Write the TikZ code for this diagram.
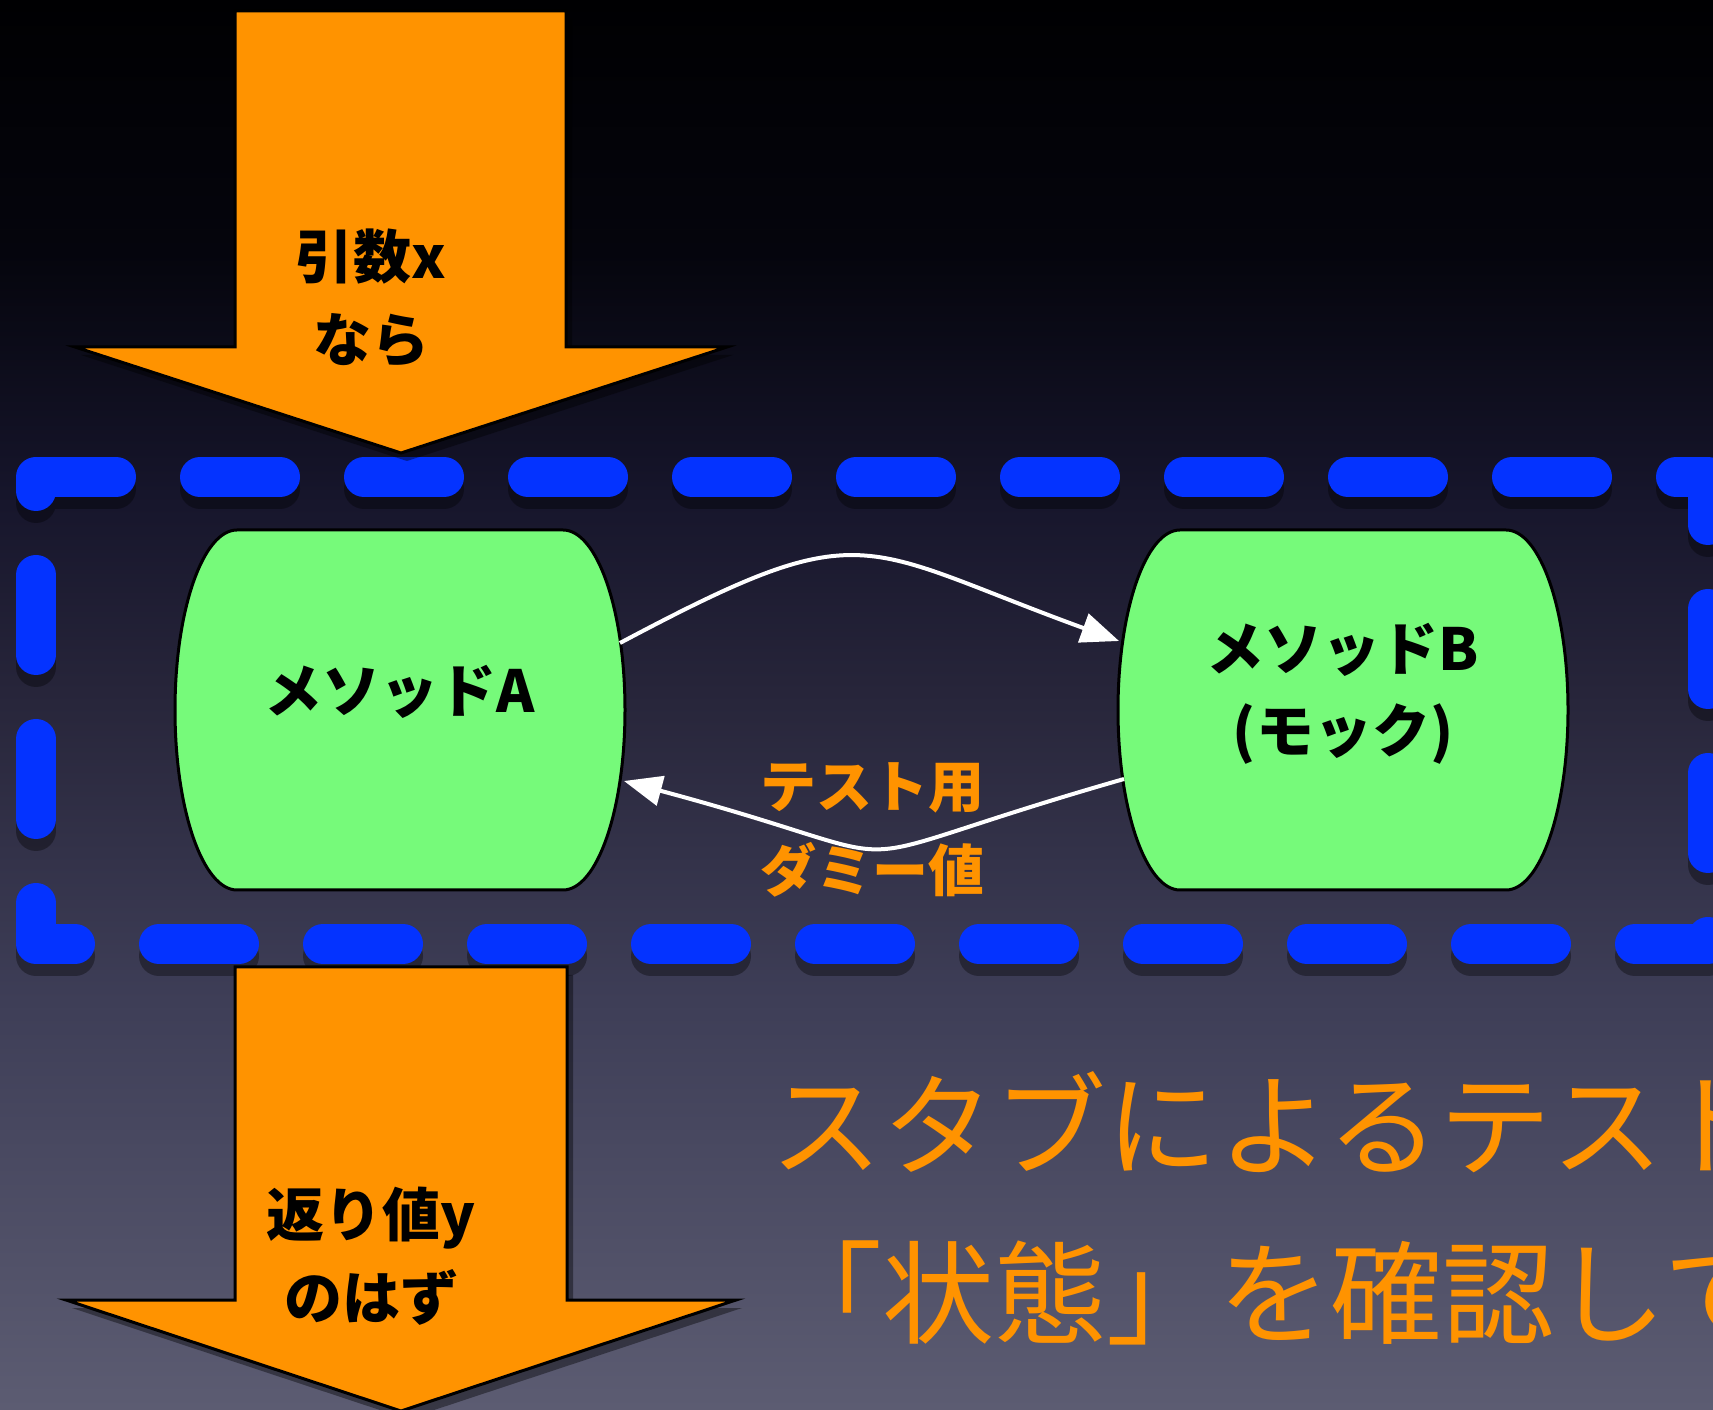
\documentclass[tikz,border=0pt]{standalone}
\usepackage{fontspec}
\newfontfamily\jp{Noto Sans CJK JP}
\usetikzlibrary{arrows.meta,calc}
\definecolor{kOrange}{HTML}{FF9300}
\definecolor{kGreen}{HTML}{76FA7A}
\definecolor{kBlue}{HTML}{0433FF}
\definecolor{bgA}{HTML}{5C5C72}
\definecolor{bgB}{HTML}{3E3E57}
\definecolor{bgC}{HTML}{28263B}
\definecolor{bgD}{HTML}{16152B}
\definecolor{bgE}{HTML}{05050D}
\definecolor{bgF}{HTML}{000002}
\pgfdeclareverticalshading{bgshade}{100bp}{color(0bp)=(bgA); color(25bp)=(bgA); color(39.5bp)=(bgB); color(50bp)=(bgC); color(57.5bp)=(bgD); color(66bp)=(bgE); color(75bp)=(bgF); color(100bp)=(bgF)}
\newcommand\barrelpath[1]{([xshift=31pt]#1.north west) -- ([xshift=-31pt]#1.north east) arc[start angle=90,end angle=-90,x radius=31pt,y radius=90pt] -- ([xshift=31pt]#1.south west) arc[start angle=270,end angle=90,x radius=31pt,y radius=90pt] -- cycle}
\tikzset{
  flowarrow/.style={fill=kOrange, draw=black, line width=1.5pt, line join=miter},
  arrowtext/.style={font={\jp\bfseries\fontsize{29}{41.5}\selectfont}, align=center, inner sep=0pt, text=black},
  holder/.style={rectangle, minimum width=225pt, minimum height=180pt, inner sep=0pt, outer sep=0pt},
  barrel/.style={fill=kGreen, draw=black, line width=1.5pt},
  methodtext/.style={font={\jp\bfseries\fontsize{29}{41}\selectfont}, align=center, inner sep=0pt, text=black},
  boundary/.style={draw=kBlue, line width=20pt, line cap=round, line join=round, dash pattern=on 40pt off 42pt},
  callarrow/.style={draw=white, line width=2pt, -{Triangle[length=19pt,width=15pt]}},
  labeltext/.style={font={\jp\bfseries\fontsize{28}{42}\selectfont}, text=kOrange, align=center, inner sep=0pt},
  titletext/.style={font={\jp\fontsize{56}{84}\selectfont}, text=kOrange, inner sep=0pt, anchor=base west},
  shadowcopy/.style={draw=black, fill=black, opacity=0.35}
}
\begin{document}
\begin{tikzpicture}[x=0.5pt,y=0.5pt]
\useasboundingbox (0,0) rectangle (1713,1409);
\clip (0,0) rectangle (1713,1409);
% background
\shade[shading=bgshade] (0,0) rectangle (1713,1409);

% dashed boundary (shadow, then line)
\draw[boundary, draw=black, opacity=0.35] (36,920) -- (1708,920) -- (1708,453) -- (36,453) -- cycle;
\draw[boundary] (36,932) -- (1708,932) -- (1708,465) -- (36,465) -- cycle;

% input arrow
\fill[black, opacity=0.4] (241,1390) -- (572,1390) -- (572,1054) -- (733,1054) -- (407,948) -- (81,1054) -- (241,1054) -- cycle;
\path[flowarrow] (235,1398) -- (566,1398) -- (566,1062) -- (727,1062) -- (401,956) -- (75,1062) -- (235,1062) -- cycle;
\node[arrowtext] (argx) at (371,1111) {引数x\\なら};

% output arrow
\fill[black, opacity=0.4] (241,434) -- (573,434) -- (573,101) -- (742,101) -- (407,-10) -- (72,101) -- (241,101) -- cycle;
\path[flowarrow] (235,442) -- (567,442) -- (567,109) -- (736,109) -- (401,-2) -- (66,109) -- (235,109) -- cycle;
\node[arrowtext] (rety) at (371,153) {返り値y\\のはず};

% methods
\node[holder] (A) at (400,699) {};
\node[holder] (B) at (1343,699) {};
\path[shadowcopy, xshift=2pt, yshift=-4pt] \barrelpath{A};
\path[shadowcopy, xshift=2pt, yshift=-4pt] \barrelpath{B};
\path[barrel] \barrelpath{A};
\path[barrel] \barrelpath{B};
\node[methodtext] (Alabel) at (400,717) {メソッドA};
\node[methodtext] (Blabel) at (1343,715) {メソッドB\\(モック)};

% calls
\draw[callarrow] ([xshift=-2.5pt,yshift=33.5pt]A.east) .. controls +(28:140pt) and +(160:140pt) .. ([xshift=0.5pt,yshift=34.5pt]B.west);
\draw[callarrow] ([xshift=3pt,yshift=-34.5pt]B.west) .. controls +(196:170pt) and +(-15:170pt) .. ([xshift=-0.5pt,yshift=-35.5pt]A.east);
\node[labeltext] (dummy) at (872,579) {テスト用\\ダミー値};

% title
\node[titletext] (title1) at (770,242) {スタブによるテスト};
\node[titletext] (title2) at (770,74) {「状態」を確認して};
\end{tikzpicture}
\end{document}
